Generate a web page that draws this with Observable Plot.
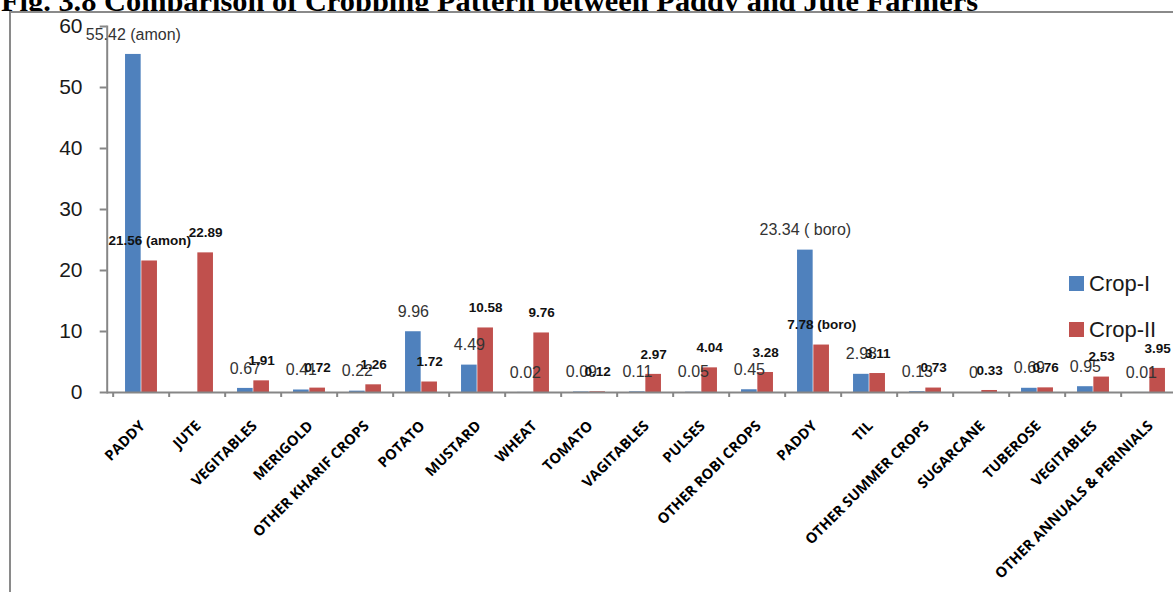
<!DOCTYPE html>
<html>
<head>
<meta charset="utf-8">
<script src="https://cdn.jsdelivr.net/npm/d3@7"></script>
<script src="https://cdn.jsdelivr.net/npm/@observablehq/plot@0.6"></script>
<style>
  html, body { margin: 0; padding: 0; background: #fff; overflow: hidden; }
  #wrap { position: relative; width: 1173px; height: 592px; overflow: hidden; }
  #title { position: absolute; left: 1px; top: -14px; font: bold 30.4px/30px "Liberation Serif", "Times New Roman", serif; white-space: nowrap; color: #000; z-index: 1; }
  #frame { position: absolute; left: 9px; top: 11px; width: 1300px; height: 700px; border: 2px solid #8a8a8a; box-sizing: border-box; background: #fff; z-index: 2; }
  #chart { position: absolute; left: 0; top: 0; width: 1200px; z-index: 3; }
  #legend { position: absolute; left: 1069px; top: 270px; z-index: 4; font-family: "Liberation Sans", Arial, sans-serif; font-size: 22px; color: #1a1a1a; }
  .item { display: flex; align-items: center; height: 27px; margin-bottom: 19px; }
  .sw { width: 15px; height: 15px; margin-right: 5px; }
</style>
</head>
<body>
<div id="wrap">
  <div id="title"></div>
  <div id="frame"></div>
  <div id="chart"></div>
  <div id="legend"></div>
</div>
<script>
const titleText = "Fig. 3.8 Comparison of Cropping Pattern between Paddy and Jute Farmers";
const categories = ["PADDY", "JUTE", "VEGITABLES", "MERIGOLD", "OTHER KHARIF CROPS", "POTATO", "MUSTARD", "WHEAT", "TOMATO", "VAGITABLES", "PULSES", "OTHER ROBI CROPS", "PADDY", "TIL", "OTHER SUMMER CROPS", "SUGARCANE", "TUBEROSE", "VEGITABLES", "OTHER ANNUALS & PERINIALS"];
const series = ["Crop-I", "Crop-II"];
const colors = ["#4F81BD", "#C0504D"];
const cropI = [55.42, null, 0.67, 0.41, 0.22, 9.96, 4.49, 0.02, 0.09, 0.11, 0.05, 0.45, 23.34, 2.98, 0.13, 0, 0.69, 0.95, 0.01];
const cropII = [21.56, 22.89, 1.91, 0.72, 1.26, 1.72, 10.58, 9.76, 0.12, 2.97, 4.04, 3.28, 7.78, 3.11, 0.73, 0.33, 0.76, 2.53, 3.95];
const cropINote = [" (amon)", "", "", "", "", "", "", "", "", "", "", "", " ( boro)", "", "", "", "", "", ""];
const cropIINote = [" (amon)", "", "", "", "", "", "", "", "", "", "", "", " (boro)", "", "", "", "", "", ""];
const yTicks = [0, 10, 20, 30, 40, 50, 60];

const keys = categories.map((c, i) => i);
const rowsI = keys.filter(i => cropI[i] != null).map(i => ({key: i, series: series[0], value: cropI[i], label: String(cropI[i]) + cropINote[i]}));
const rowsII = keys.filter(i => cropII[i] != null).map(i => ({key: i, series: series[1], value: cropII[i], label: String(cropII[i]) + cropIINote[i]}));

const band = (1183.4 - 106.7) / categories.length;
const barW = 16.3;
const half = band / 2;
const axisColor = "#868686";

const chart = Plot.plot({
  width: 1200,
  height: 592,
  marginLeft: 106.7,
  marginRight: 16.6,
  marginTop: 26,
  marginBottom: 200,
  style: { fontFamily: "Liberation Sans, Arial, sans-serif", background: "transparent", overflow: "visible", maxWidth: "none" },
  x: { domain: keys, padding: 0 },
  y: { domain: [0, 60] },
  color: { domain: series, range: colors },
  marks: [
    Plot.barY(rowsI, { x: "key", y: "value", fill: "series", insetLeft: half - barW, insetRight: half }),
    Plot.barY(rowsII, { x: "key", y: "value", fill: "series", insetLeft: half, insetRight: half - barW }),
    Plot.frame({ anchor: "left", stroke: axisColor, strokeWidth: 2 }),
    Plot.ruleY([0], { stroke: axisColor, strokeWidth: 2 }),
    Plot.axisY({ ticks: yTicks, tickSize: 7, tickPadding: 17.7, fontSize: 21, stroke: axisColor, strokeWidth: 2, fill: "#1a1a1a", label: null }),
    Plot.axisX({ ticks: keys, tickSize: 5, tickFormat: () => "", dx: -half, stroke: axisColor, strokeWidth: 2, label: null }),
    Plot.text(keys, { x: d => d, frameAnchor: "bottom", text: i => categories[i], rotate: -45, textAnchor: "end", lineAnchor: "top", dx: -3, dy: 27, fontWeight: "bold", fontSize: 14.5, fontFamily: "Open Sans, Liberation Sans, sans-serif", fill: "#000" }),
    Plot.text(rowsI, { x: "key", y: "value", text: "label", dx: -barW / 2, dy: -20, fontSize: 16, fill: "#333" }),
    Plot.text(rowsII, { x: "key", y: "value", text: "label", dx: barW / 2, dy: -20, fontSize: 13.5, fontWeight: "bold", fill: "#111" })
  ]
});
document.getElementById("chart").appendChild(chart);
document.getElementById("title").textContent = titleText;

const legend = d3.select("#legend");
series.forEach((s, i) => {
  const it = legend.append("div").attr("class", "item");
  it.append("div").attr("class", "sw").style("background", colors[i]);
  it.append("span").text(s);
});
</script>
</body>
</html>
